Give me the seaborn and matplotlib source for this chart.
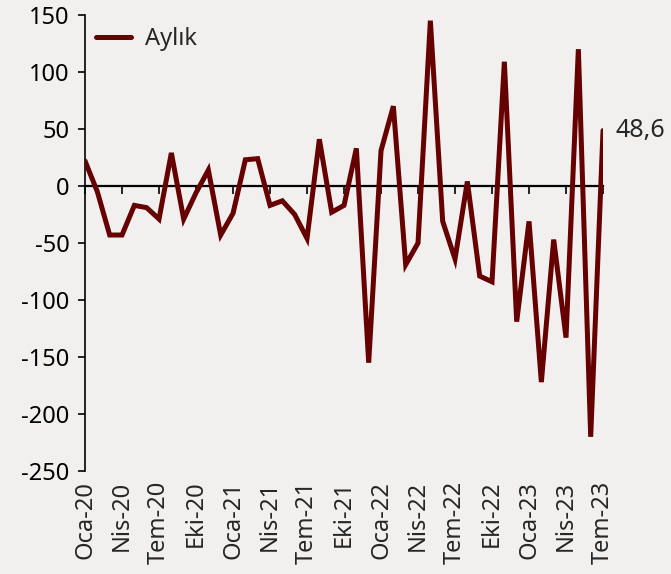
import numpy as np
import pandas as pd
import matplotlib
matplotlib.use('agg')
import matplotlib.pyplot as plt
import seaborn as sns

months_tr = ['Oca', 'Şub', 'Mar', 'Nis', 'May', 'Haz', 'Tem', 'Ağu', 'Eyl', 'Eki', 'Kas', 'Ara']
years = ['20', '21', '22', '23']
month_labels = [m + '-' + y for y in years for m in months_tr][:43]

aylik = [22, -5, -43, -43, -17, -19, -29, 29, -29, -6, 14, -43,
         -24, 23, 24, -17, -13, -25, -46, 41, -23, -17, 33, -155,
         31, 70, -69, -50, 145, -31, -64, 4, -79, -84, 109, -119,
         -31, -172, -47, -133, 120, -220, 48.6]

last_label = '48,6'
line_color = '#660000'
bg_color = '#f2f0ef'

df = pd.DataFrame({'idx': range(len(aylik)), 'ay': month_labels, 'deger': aylik})

sns.set_style('white')
plt.rcParams['font.family'] = ['Noto Sans', 'DejaVu Sans']
plt.rcParams['axes.unicode_minus'] = False
fs = 17

fig = plt.figure(figsize=(6.71, 5.74), dpi=100, facecolor=bg_color)
ax = fig.add_axes([0.1267, 0.1794, 0.772, 0.7945])
ax.set_facecolor(bg_color)

sns.lineplot(data=df, x='idx', y='deger', color=line_color, linewidth=3.6,
             label='Aylık', ax=ax, solid_capstyle='round', solid_joinstyle='miter',
             zorder=3)

ax.set_xlim(0, len(aylik) - 1)
ax.set_ylim(-250, 150)
ax.set_yticks(np.arange(-250, 151, 50))
ax.tick_params(axis='y', labelsize=fs, length=5, width=1.2, pad=6, colors='black', left=True)

tick_pos = df['idx'][::3]
ax.set_xticks(tick_pos)
ax.set_xticklabels(df['ay'][::3], rotation=90, fontsize=fs)
ax.tick_params(axis='x', length=0, pad=7)
ax.set_xlabel('')
ax.set_ylabel('')

for s in ['top', 'right', 'bottom']:
    ax.spines[s].set_visible(False)
ax.spines['left'].set_linewidth(1.2)
ax.spines['left'].set_color('black')

# zero line with its own ticks pointing down
zero_frac = (0 - (-250)) / (150 - (-250))
sec = ax.secondary_xaxis(zero_frac)
sec.set_xticks(tick_pos)
sec.set_xticklabels([])
sec.tick_params(length=6, width=1.2, direction='in', colors='black')
for sp in sec.spines.values():
    sp.set_linewidth(1.6)
    sp.set_color('black')

ax.annotate(last_label, xy=(df['idx'].iloc[-1], aylik[-1]), xytext=(9, 0),
            textcoords='offset points', fontsize=fs + 1, va='center', ha='left',
            annotation_clip=False)

leg = ax.legend(loc='upper left', frameon=False, fontsize=fs, handlelength=1.45,
                bbox_to_anchor=(-0.01, 1.01), borderaxespad=0.3, handletextpad=0.6)

fig.savefig('out.png', dpi=100, facecolor=bg_color)
